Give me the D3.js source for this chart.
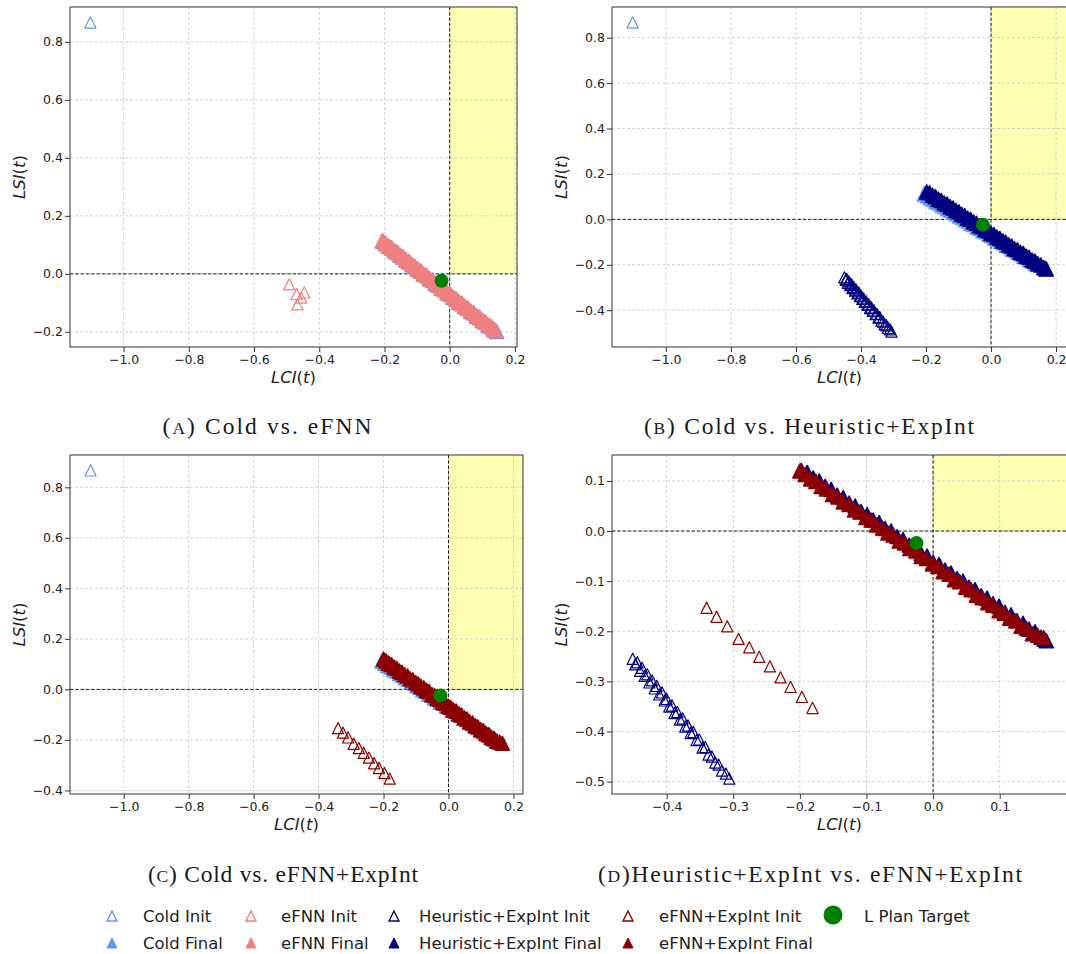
<!DOCTYPE html>
<html>
<head>
<meta charset="utf-8">
<script src="https://cdn.jsdelivr.net/npm/d3@7"></script>
<style>
  body { margin: 0; background: #fff; }
  svg { display: block; }
</style>
</head>
<body>
<div id="chart"></div>
<script>
// points, [LCI, LSI]
const coldInit = [[-1.102, 0.867]];
const coldFinal = [[-0.205,0.112],[-0.196,0.104],[-0.187,0.095],[-0.178,0.089],[-0.169,0.079],[-0.160,0.073],[-0.151,0.063],[-0.142,0.057],[-0.133,0.047],[-0.124,0.041],[-0.115,0.031],[-0.106,0.025],[-0.097,0.015],[-0.088,0.009],[-0.079,-0.001],[-0.070,-0.007],[-0.061,-0.018],[-0.052,-0.023],[-0.043,-0.034],[-0.034,-0.039],[-0.025,-0.050],[-0.016,-0.055],[-0.007,-0.066],[0.002,-0.071],[0.011,-0.082],[0.020,-0.087],[0.029,-0.098],[0.038,-0.103],[0.047,-0.114],[0.056,-0.119],[0.065,-0.130],[0.074,-0.135],[0.083,-0.146],[0.092,-0.151],[0.101,-0.162],[0.110,-0.167],[0.119,-0.178],[0.128,-0.183],[0.137,-0.194],[0.144,-0.199]];
const efnnInit = [[-0.492,-0.036],[-0.469,-0.070],[-0.446,-0.064],[-0.467,-0.105],[-0.456,-0.082]];
const efnnFinal = [[-0.207,0.114],[-0.198,0.107],[-0.189,0.097],[-0.180,0.091],[-0.171,0.081],[-0.162,0.075],[-0.153,0.065],[-0.144,0.059],[-0.135,0.049],[-0.126,0.043],[-0.117,0.033],[-0.108,0.027],[-0.099,0.017],[-0.090,0.011],[-0.081,0.001],[-0.072,-0.005],[-0.063,-0.015],[-0.054,-0.021],[-0.045,-0.031],[-0.036,-0.037],[-0.027,-0.047],[-0.018,-0.053],[-0.009,-0.063],[0.000,-0.069],[0.009,-0.079],[0.018,-0.085],[0.027,-0.095],[0.036,-0.101],[0.045,-0.111],[0.054,-0.117],[0.063,-0.127],[0.072,-0.133],[0.081,-0.143],[0.090,-0.149],[0.099,-0.159],[0.108,-0.165],[0.117,-0.175],[0.126,-0.181],[0.134,-0.190],[0.140,-0.195]];
const heurInit = [[-0.451,-0.255],[-0.447,-0.266],[-0.444,-0.262],[-0.440,-0.279],[-0.437,-0.273],[-0.433,-0.289],[-0.429,-0.286],[-0.426,-0.302],[-0.422,-0.298],[-0.418,-0.314],[-0.415,-0.309],[-0.411,-0.326],[-0.407,-0.322],[-0.403,-0.338],[-0.400,-0.335],[-0.396,-0.350],[-0.392,-0.348],[-0.388,-0.363],[-0.384,-0.361],[-0.380,-0.376],[-0.376,-0.374],[-0.372,-0.390],[-0.368,-0.388],[-0.364,-0.403],[-0.360,-0.401],[-0.355,-0.417],[-0.351,-0.416],[-0.346,-0.432],[-0.342,-0.431],[-0.337,-0.446],[-0.332,-0.450],[-0.327,-0.462],[-0.322,-0.466],[-0.317,-0.478],[-0.311,-0.484],[-0.306,-0.494]];
const heurFinal = [[-0.198,0.121],[-0.189,0.117],[-0.180,0.106],[-0.171,0.100],[-0.162,0.089],[-0.153,0.083],[-0.144,0.072],[-0.135,0.067],[-0.126,0.056],[-0.117,0.050],[-0.108,0.039],[-0.099,0.033],[-0.090,0.022],[-0.081,0.017],[-0.072,0.005],[-0.063,0.000],[-0.054,-0.011],[-0.045,-0.017],[-0.036,-0.028],[-0.027,-0.033],[-0.018,-0.045],[-0.009,-0.050],[0.000,-0.062],[0.009,-0.067],[0.018,-0.078],[0.027,-0.084],[0.036,-0.095],[0.045,-0.100],[0.054,-0.112],[0.063,-0.117],[0.072,-0.129],[0.081,-0.134],[0.090,-0.145],[0.099,-0.150],[0.108,-0.162],[0.117,-0.167],[0.126,-0.179],[0.135,-0.184],[0.144,-0.196],[0.153,-0.201],[0.162,-0.212],[0.167,-0.216],[0.170,-0.219]];
const efnnExpInit = [[-0.340,-0.153],[-0.325,-0.171],[-0.309,-0.190],[-0.292,-0.215],[-0.276,-0.232],[-0.261,-0.251],[-0.245,-0.270],[-0.229,-0.292],[-0.214,-0.311],[-0.197,-0.331],[-0.181,-0.353]];
const efnnExpFinal = [[-0.200,0.120],[-0.192,0.113],[-0.184,0.104],[-0.176,0.099],[-0.168,0.089],[-0.160,0.084],[-0.151,0.073],[-0.143,0.068],[-0.135,0.058],[-0.126,0.053],[-0.118,0.042],[-0.110,0.038],[-0.101,0.027],[-0.093,0.022],[-0.085,0.012],[-0.076,0.006],[-0.068,-0.004],[-0.060,-0.008],[-0.051,-0.020],[-0.043,-0.024],[-0.035,-0.035],[-0.026,-0.040],[-0.018,-0.051],[-0.010,-0.055],[-0.001,-0.066],[0.007,-0.071],[0.015,-0.081],[0.024,-0.086],[0.032,-0.097],[0.040,-0.101],[0.049,-0.112],[0.057,-0.117],[0.065,-0.128],[0.074,-0.133],[0.082,-0.143],[0.090,-0.148],[0.099,-0.159],[0.107,-0.164],[0.115,-0.174],[0.124,-0.179],[0.132,-0.190],[0.140,-0.194],[0.149,-0.205],[0.157,-0.208],[0.166,-0.213]];
const target = [[-0.025, -0.024]];

// tick labels
const xTicksWide = [-1.0, -0.8, -0.6, -0.4, -0.2, 0.0, 0.2];
const yTicksA = [-0.2, 0.0, 0.2, 0.4, 0.6, 0.8];
const yTicksBC = [-0.4, -0.2, 0.0, 0.2, 0.4, 0.6, 0.8];
const xTicksD = [-0.4, -0.3, -0.2, -0.1, 0.0, 0.1];
const yTicksD = [-0.5, -0.4, -0.3, -0.2, -0.1, 0.0, 0.1];

const captionLetters = ["A", "B", "C", "D"];
const captionTexts = [" Cold vs. eFNN", " Cold vs. Heuristic+ExpInt", " Cold vs. eFNN+ExpInt", "Heuristic+ExpInt vs. eFNN+ExpInt"];

const legendLabels = ["Cold Init", "Cold Final", "eFNN Init", "eFNN Final", "Heuristic+ExpInt Init", "Heuristic+ExpInt Final", "eFNN+ExpInt Init", "eFNN+ExpInt Final", "L Plan Target"];
const legendKeys = ["cold", "cold", "efnn", "efnn", "heur", "heur", "efnnExp", "efnnExp", "target"];

const COLORS = { cold: "#6495ed", efnn: "#f08080", heur: "#000080", efnnExp: "#8b0000", target: "#008000" };
const FONT = "DejaVu Sans, sans-serif";

const W = 1066, H = 954;
const svg = d3.select("#chart").append("svg")
  .attr("width", W).attr("height", H)
  .style("background", "#fff");

const tri = h => `M0,${-h}L${h},${h}L${-h},${h}Z`;

const panels = [
  { id: "A", box: [70, 7, 517, 347], xTicks: xTicksWide, yTicks: yTicksA,
    layers: [["cold", false, coldInit], ["cold", true, coldFinal], ["efnn", false, efnnInit], ["efnn", true, efnnFinal]] },
  { id: "B", box: [612, 7, 1067, 347], xTicks: xTicksWide, yTicks: yTicksBC,
    layers: [["cold", false, coldInit], ["cold", true, coldFinal], ["heur", false, heurInit], ["heur", true, heurFinal]] },
  { id: "C", box: [70, 455, 523, 794], xTicks: xTicksWide, yTicks: yTicksBC,
    layers: [["cold", false, coldInit], ["cold", true, coldFinal], ["efnnExp", false, efnnExpInit], ["efnnExp", true, efnnExpFinal]] },
  { id: "D", box: [612, 455, 1067, 794], xTicks: xTicksD, yTicks: yTicksD,
    layers: [["heur", false, heurInit], ["heur", true, heurFinal], ["efnnExp", false, efnnExpInit], ["efnnExp", true, efnnExpFinal]] }
];

// matplotlib style 5% autoscale margins
const padded = e => { const w = e[1] - e[0]; return [e[0] - 0.05 * w, e[1] + 0.05 * w]; };

function drawPanel(p) {
  const [x0, y0, x1, y1] = p.box;
  const all = p.layers.flatMap(l => l[2]).concat(target);
  const x = d3.scaleLinear().domain(padded(d3.extent(all, d => d[0]))).range([x0, x1]);
  const y = d3.scaleLinear().domain(padded(d3.extent(all, d => d[1]))).range([y1, y0]);

  const g = svg.append("g");
  const clipId = "clip" + p.id;
  svg.append("clipPath").attr("id", clipId)
    .append("rect").attr("x", x0).attr("y", y0).attr("width", x1 - x0).attr("height", y1 - y0);
  const plot = g.append("g").attr("clip-path", `url(#${clipId})`);

  // target quadrant
  plot.append("rect")
    .attr("x", x(0)).attr("y", y0)
    .attr("width", x1 - x(0)).attr("height", y(0) - y0)
    .attr("fill", "#ffffb3");

  // grid
  plot.selectAll(".gx").data(p.xTicks).enter().append("line")
    .attr("x1", d => x(d)).attr("x2", d => x(d)).attr("y1", y0).attr("y2", y1)
    .attr("stroke", "#c8c8c8").attr("stroke-width", 0.8).attr("stroke-dasharray", "3,2");
  plot.selectAll(".gy").data(p.yTicks).enter().append("line")
    .attr("x1", x0).attr("x2", x1).attr("y1", d => y(d)).attr("y2", d => y(d))
    .attr("stroke", "#c8c8c8").attr("stroke-width", 0.8).attr("stroke-dasharray", "3,2");

  // zero lines
  plot.append("line").attr("x1", x0).attr("x2", x1).attr("y1", y(0)).attr("y2", y(0))
    .attr("stroke", "#222").attr("stroke-width", 1).attr("stroke-dasharray", "3.5,1.8");
  plot.append("line").attr("x1", x(0)).attr("x2", x(0)).attr("y1", y0).attr("y2", y1)
    .attr("stroke", "#222").attr("stroke-width", 1).attr("stroke-dasharray", "3.5,1.8");

  // scatter layers
  p.layers.forEach(([key, filled, data]) => {
    const c = COLORS[key];
    plot.append("g").selectAll("path").data(data).enter().append("path")
      .attr("d", filled ? tri(7) : tri(5.6))
      .attr("transform", d => `translate(${x(d[0])},${y(d[1])})`)
      .attr("fill", filled ? c : "none")
      .attr("stroke", c)
      .attr("stroke-linejoin", "round")
      .attr("stroke-width", filled ? 1.5 : 1.2);
  });

  plot.selectAll(".target").data(target).enter().append("circle")
    .attr("cx", d => x(d[0])).attr("cy", d => y(d[1])).attr("r", 7)
    .attr("fill", COLORS.target);

  // spines
  g.append("rect").attr("x", x0).attr("y", y0).attr("width", x1 - x0).attr("height", y1 - y0)
    .attr("fill", "none").attr("stroke", "#333").attr("stroke-width", 1);

  const fmt = d3.format(".1f");
  const ax = g.append("g").attr("transform", `translate(0,${y1})`)
    .call(d3.axisBottom(x).tickValues(p.xTicks).tickFormat(fmt).tickSize(5).tickPadding(3));
  const ay = g.append("g").attr("transform", `translate(${x0},0)`)
    .call(d3.axisLeft(y).tickValues(p.yTicks).tickFormat(fmt).tickSize(5).tickPadding(2));
  [ax, ay].forEach(a => {
    a.select(".domain").remove();
    a.selectAll(".tick line").attr("stroke", "#333");
    a.selectAll(".tick text").attr("font-family", FONT).attr("font-size", 12.5).attr("fill", "#222");
  });

  // axis titles
  const xl = g.append("text").attr("x", (x0 + x1) / 2).attr("y", y1 + 36)
    .attr("text-anchor", "middle").attr("font-family", FONT).attr("font-size", 16.5).attr("fill", "#222");
  xl.append("tspan").attr("font-style", "italic").text("LCI");
  xl.append("tspan").text("(");
  xl.append("tspan").attr("font-style", "italic").text("t");
  xl.append("tspan").text(")");

  const yl = g.append("text").attr("transform", `translate(${x0 - 45},${(y0 + y1) / 2}) rotate(-90)`)
    .attr("text-anchor", "middle").attr("font-family", FONT).attr("font-size", 16.5).attr("fill", "#222");
  yl.append("tspan").attr("font-style", "italic").text("LSI");
  yl.append("tspan").text("(");
  yl.append("tspan").attr("font-style", "italic").text("t");
  yl.append("tspan").text(")");
}

panels.forEach(drawPanel);

// subfigure captions
const capPos = [[267, 434, 209], [809, 434, 330], [283, 882, 270], [810, 882, 424]];
captionTexts.forEach((t, i) => {
  const [cx, cy, len] = capPos[i];
  const txt = svg.append("text").attr("x", cx).attr("y", cy)
    .attr("text-anchor", "middle")
    .attr("font-family", "Liberation Serif, serif").attr("font-size", 23.5).attr("fill", "#1a1a1a")
    .attr("textLength", len).attr("lengthAdjust", "spacing");
  txt.append("tspan").text("(");
  txt.append("tspan").attr("font-size", 17.5).text(captionLetters[i]);
  txt.append("tspan").text(")" + t);
});

// legend, two rows per column
const legMarkX = [112, 251, 394, 628, 833];
const legTextX = [143, 281, 419, 659, 864];
const legRowY = [916, 943];
legendLabels.forEach((lab, i) => {
  const col = Math.floor(i / 2), row = i % 2;
  const key = legendKeys[i];
  const c = COLORS[key];
  const mx = legMarkX[col], my = legRowY[row];
  if (key === "target") {
    svg.append("circle").attr("cx", mx).attr("cy", my - 1).attr("r", 9.5).attr("fill", c);
  } else {
    const filled = row === 1;
    svg.append("path").attr("d", tri(5))
      .attr("transform", `translate(${mx},${my})`)
      .attr("fill", filled ? c : "none").attr("stroke", c).attr("stroke-width", filled ? 1 : 1.4);
  }
  svg.append("text").attr("x", legTextX[col]).attr("y", my + 6)
    .attr("font-family", FONT).attr("font-size", 16.5).attr("fill", "#222").text(lab);
});
</script>
</body>
</html>
